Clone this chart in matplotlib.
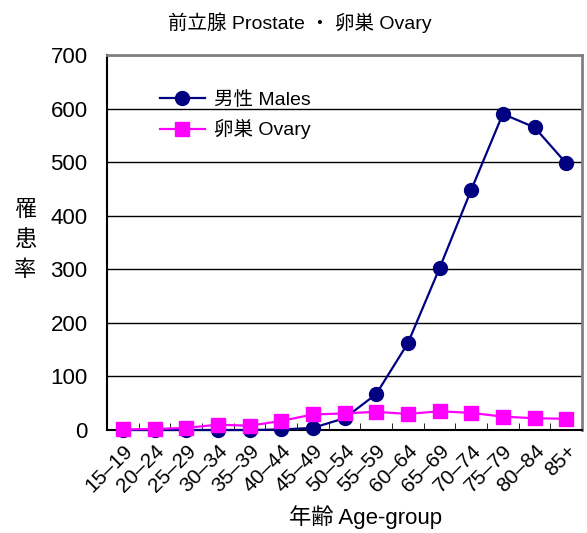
import matplotlib
matplotlib.use("Agg")
import matplotlib.pyplot as plt
import numpy as np

plt.rcParams['font.family'] = ['Liberation Sans', 'Noto Sans CJK JP']

categories = ["15–19", "20–24", "25–29", "30–34", "35–39", "40–44", "45–49",
              "50–54", "55–59", "60–64", "65–69", "70–74", "75–79", "80–84", "85+"]
males = [0, 0, 0, 0, 0, 1, 4, 22, 67, 162, 302, 448, 590, 565, 498]
ovary = [1, 2, 4, 10, 8, 17, 29, 31, 34, 30, 35, 32, 25, 22, 21]
yticks = [0, 100, 200, 300, 400, 500, 600, 700]

fig = plt.figure(figsize=(5.87, 5.33), dpi=100)
ax = fig.add_axes([0.1823, 0.1932, 0.8092, 0.7036])

x = np.arange(len(categories))
ax.plot(x, males, color='#000080', lw=1.6, marker='o', ms=10, label='男性 Males',
        zorder=3, clip_on=False)
ax.plot(x, ovary, color='#FF00FF', lw=1.6, marker='s', ms=10.5, label='卵巣 Ovary',
        zorder=4, clip_on=False)

ax.set_xlim(-0.5, len(categories) - 0.5)
ax.set_ylim(0, 700)
ax.set_yticks(yticks)
ax.set_yticklabels([str(v) for v in yticks], fontsize=16)
ax.tick_params(axis='y', length=0, pad=14)
ax.yaxis.grid(True, color='black', lw=1)
ax.set_axisbelow(True)

ax.set_xticks(x)
ax.set_xticklabels(categories, rotation=45, ha='right', rotation_mode='anchor', fontsize=15)
ax.tick_params(axis='x', length=0, pad=8)
ax.set_xticks(np.arange(-0.5, len(categories) + 0.5, 1), minor=True)
ax.tick_params(axis='x', which='minor', direction='in', length=5, color='black')

for s in ['left', 'bottom']:
    ax.spines[s].set_color('black')
    ax.spines[s].set_linewidth(1.5)
for s in ['top', 'right']:
    ax.spines[s].set_color('#808080')
    ax.spines[s].set_linewidth(2)

fig.text(0.511, 0.958, '前立腺 Prostate ・ 卵巣 Ovary', fontsize=14, ha='center', va='center')
ax.set_xlabel('年齢 Age-group', fontsize=16, labelpad=8)
ax.xaxis.set_label_coords(0.545, -0.2)
for ch, yp in zip('罹患率', [210, 241, 271]):
    fig.text(0.043, 1 - yp / 533, ch, fontsize=16, ha='center', va='center')

leg = ax.legend(loc='upper left', bbox_to_anchor=(0.095, 0.925), frameon=False, fontsize=14,
                handlelength=2.3, handletextpad=0.5, labelspacing=0.55, borderaxespad=0)

fig.savefig('out.png', dpi=100)
